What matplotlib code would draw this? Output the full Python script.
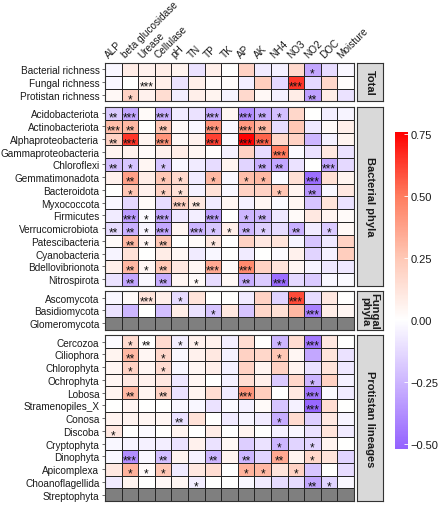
import numpy as np
import matplotlib
matplotlib.use("Agg")
import matplotlib.pyplot as plt
from matplotlib.colors import LinearSegmentedColormap, Normalize
from matplotlib.colorbar import ColorbarBase

plt.rcParams["font.family"] = ["Liberation Sans", "DejaVu Sans"]

# ---------- DATA ----------
variables = ["ALP", "beta glucosidase", "Urease", "Cellulase", "pH", "TN", "TP", "TK",
             "AP", "AK", "NH4", "NO3", "NO2", "DOC", "Moisture"]

total_rows = ["Bacterial richness", "Fungal richness", "Protistan richness"]
total_vals = [
    [-0.03, 0.08, 0.06, 0.08, 0.05, -0.10, 0.07, 0.00, 0.20, -0.07, -0.05, 0.17, -0.30, -0.12, -0.03],
    [-0.03, 0.00, 0.05, 0.07, -0.10, 0.07, 0.02, 0.01, -0.06, 0.22, -0.13, 0.65, -0.13, 0.18, 0.01],
    [0.03, 0.20, 0.06, 0.15, -0.06, 0.07, 0.05, -0.04, 0.17, 0.03, -0.05, 0.08, -0.32, 0.08, -0.10],
]
total_sig = [
    ["", "", "", "", "", "", "", "", "", "", "", "", "*", "", ""],
    ["", "", "***", "", "", "", "", "", "", "", "", "***", "", "", ""],
    ["", "*", "", "", "", "", "", "", "", "", "", "", "**", "", ""],
]

bact_rows = ["Acidobacteriota", "Actinobacteriota", "Alphaproteobacteria", "Gammaproteobacteria",
             "Chloroflexi", "Gemmatimonadota", "Bacteroidota", "Myxococcota", "Firmicutes",
             "Verrucomicrobiota", "Patescibacteria", "Cyanobacteria", "Bdellovibrionota", "Nitrospirota"]
bact_vals = [
    [-0.18, -0.30, 0.02, -0.27, -0.07, -0.10, -0.28, 0.04, -0.38, -0.28, -0.22, 0.18, 0.00, -0.06, -0.04],
    [0.28, 0.30, 0.00, 0.25, 0.02, -0.03, 0.42, -0.03, 0.40, 0.30, -0.12, 0.25, -0.08, 0.02, 0.07],
    [0.20, 0.65, 0.05, 0.42, 0.03, 0.06, 0.62, -0.02, 0.75, 0.55, 0.18, 0.20, -0.25, -0.05, 0.05],
    [0.05, 0.06, 0.02, 0.06, 0.08, 0.04, 0.01, -0.05, 0.20, -0.12, 0.50, -0.02, -0.10, 0.10, -0.10],
    [-0.22, -0.20, 0.04, -0.20, -0.03, -0.07, -0.12, 0.05, -0.15, -0.28, -0.30, -0.10, 0.00, -0.30, -0.13],
    [0.06, 0.38, 0.08, 0.25, 0.17, -0.07, 0.30, -0.03, 0.28, 0.30, -0.02, 0.14, -0.48, 0.14, 0.05],
    [0.00, 0.25, 0.06, 0.20, 0.13, -0.05, 0.13, -0.03, 0.20, 0.20, 0.25, 0.05, -0.35, -0.03, 0.10],
    [-0.03, -0.13, 0.02, -0.12, 0.20, 0.10, -0.07, 0.04, -0.05, 0.04, -0.02, 0.04, -0.20, 0.12, -0.10],
    [-0.07, -0.33, -0.02, -0.30, -0.08, -0.06, -0.32, 0.00, -0.25, -0.25, -0.08, 0.02, 0.10, 0.05, 0.02],
    [-0.12, -0.27, -0.04, -0.30, 0.04, -0.25, -0.20, 0.07, -0.25, -0.17, -0.12, -0.27, -0.07, -0.18, 0.03],
    [0.02, 0.30, 0.04, 0.25, 0.00, 0.02, 0.10, 0.00, 0.20, 0.10, 0.12, -0.04, -0.20, -0.08, 0.20],
    [-0.04, 0.13, 0.00, 0.08, 0.03, -0.07, -0.03, 0.00, -0.07, 0.00, -0.02, 0.06, -0.15, -0.05, 0.22],
    [0.07, 0.30, 0.04, 0.25, 0.10, 0.04, 0.35, 0.02, 0.45, 0.20, 0.12, 0.04, -0.04, -0.08, -0.08],
    [-0.10, -0.30, -0.03, -0.28, 0.04, 0.02, -0.12, 0.03, -0.28, -0.18, -0.48, -0.13, -0.18, -0.03, -0.02],
]
bact_sig = [
    ["**", "***", "", "***", "", "", "***", "", "***", "**", "*", "", "", "", ""],
    ["***", "**", "", "**", "", "", "***", "", "***", "**", "", "", "", "", ""],
    ["**", "***", "", "***", "", "", "***", "", "***", "***", "", "", "", "", ""],
    ["", "", "", "", "", "", "", "", "", "", "***", "", "", "", ""],
    ["**", "*", "", "*", "", "", "", "", "", "**", "**", "", "", "***", ""],
    ["", "**", "", "*", "*", "", "*", "", "*", "*", "", "", "***", "", ""],
    ["", "*", "", "*", "*", "", "", "", "", "", "*", "", "**", "", ""],
    ["", "", "", "", "***", "**", "", "", "", "", "", "", "", "", ""],
    ["", "***", "*", "***", "", "", "***", "", "*", "**", "", "", "", "", ""],
    ["**", "**", "*", "***", "", "***", "*", "*", "**", "*", "", "**", "", "*", ""],
    ["", "**", "*", "**", "", "", "*", "", "", "", "", "", "", "", ""],
    ["", "", "", "", "", "", "", "", "", "", "", "", "", "", ""],
    ["", "**", "*", "**", "", "", "***", "", "***", "", "", "", "", "", ""],
    ["", "**", "", "**", "", "*", "", "", "**", "", "***", "", "", "", ""],
]

fungi_rows = ["Ascomycota", "Basidiomycota", "Glomeromycota"]
fungi_vals = [
    [-0.03, 0.02, 0.12, 0.07, -0.12, 0.12, 0.00, 0.00, -0.07, 0.20, -0.15, 0.60, -0.12, 0.10, 0.00],
    [-0.10, -0.25, 0.00, -0.22, 0.08, -0.10, -0.20, 0.10, -0.20, 0.18, 0.14, 0.30, -0.42, 0.08, 0.04],
    [None] * 15,
]
fungi_sig = [
    ["", "", "***", "", "*", "", "", "", "", "", "", "***", "", "", ""],
    ["", "", "", "", "", "", "*", "", "", "", "", "", "***", "", ""],
    [""] * 15,
]

prot_rows = ["Cercozoa", "Ciliophora", "Chlorophyta", "Ochrophyta", "Lobosa", "Stramenopiles_X",
             "Conosa", "Discoba", "Cryptophyta", "Dinophyta", "Apicomplexa", "Choanoflagellida",
             "Streptophyta"]
prot_vals = [
    [-0.02, 0.16, 0.00, 0.16, -0.06, 0.06, 0.06, -0.06, 0.15, 0.00, -0.25, 0.15, -0.45, 0.10, 0.00],
    [0.05, 0.30, 0.04, 0.18, -0.03, 0.06, 0.10, -0.05, 0.20, 0.18, 0.25, 0.04, -0.30, 0.12, -0.10],
    [0.04, 0.20, 0.04, 0.16, -0.03, 0.04, 0.07, -0.05, 0.20, 0.05, 0.20, 0.05, -0.10, 0.12, -0.08],
    [0.04, 0.10, 0.06, 0.10, -0.08, 0.04, 0.00, -0.05, 0.15, 0.07, -0.18, 0.18, -0.25, 0.20, -0.05],
    [0.05, 0.30, 0.05, 0.20, -0.10, 0.05, 0.15, -0.07, 0.42, 0.22, 0.00, 0.10, -0.45, -0.02, -0.07],
    [0.00, 0.04, 0.00, 0.00, -0.03, -0.03, -0.10, -0.02, -0.05, 0.02, -0.20, -0.05, -0.50, 0.15, 0.00],
    [0.05, 0.05, 0.04, 0.04, -0.10, 0.13, 0.00, -0.07, -0.04, -0.07, -0.28, 0.16, -0.17, 0.10, -0.04],
    [0.10, 0.00, -0.02, 0.00, 0.05, 0.00, 0.08, 0.00, 0.05, 0.00, -0.05, -0.03, -0.10, 0.12, -0.07],
    [-0.03, -0.04, -0.05, -0.06, -0.10, 0.06, -0.10, 0.03, -0.17, -0.10, -0.25, -0.15, -0.15, 0.05, 0.00],
    [-0.03, -0.38, -0.03, -0.22, 0.05, -0.05, -0.25, 0.05, -0.25, -0.15, 0.35, 0.05, 0.18, 0.12, -0.15],
    [0.10, 0.32, 0.02, 0.25, -0.07, 0.10, 0.15, 0.00, 0.32, 0.30, 0.12, 0.20, -0.20, 0.00, -0.12],
    [-0.07, 0.05, 0.00, 0.03, 0.04, -0.06, 0.00, 0.00, -0.03, -0.07, -0.12, -0.12, -0.30, -0.15, -0.03],
    [None] * 15,
]
prot_sig = [
    ["", "*", "**", "", "*", "*", "", "", "", "", "*", "", "***", "", ""],
    ["", "**", "", "*", "", "", "", "", "", "", "*", "", "", "", ""],
    ["", "*", "", "*", "", "", "", "", "", "", "", "", "", "", ""],
    ["", "", "", "", "", "", "", "", "", "", "", "", "*", "", ""],
    ["", "**", "", "**", "", "", "", "", "***", "", "", "", "***", "", ""],
    ["", "", "", "", "", "", "", "", "", "", "", "", "***", "", ""],
    ["", "", "", "", "**", "", "", "", "", "", "*", "", "", "", ""],
    ["*", "", "", "", "", "", "", "", "", "", "", "", "", "", ""],
    ["", "", "", "", "", "", "", "", "", "", "*", "", "*", "", ""],
    ["", "***", "", "**", "", "", "**", "", "**", "", "**", "", "*", "", ""],
    ["", "*", "*", "*", "", "", "", "", "*", "*", "", "*", "", "", ""],
    ["", "", "", "", "", "*", "", "", "", "", "", "", "**", "*", ""],
    [""] * 15,
]

groups = [
    ("Total", total_rows, total_vals, total_sig),
    ("Bacterial phyla", bact_rows, bact_vals, bact_sig),
    ("Fungal\nphyla", fungi_rows, fungi_vals, fungi_sig),
    ("Protistan lineages", prot_rows, prot_vals, prot_sig),
]

# ---------- COLOURS ----------
VMIN, VMAX = -0.52, 0.76
stops = [(-0.52, (148, 98, 255)), (-0.25, (205, 182, 255)), (0.0, (255, 255, 255)),
         (0.25, (255, 200, 182)), (0.5, (255, 125, 95)), (0.76, (255, 0, 0))]
cmap = LinearSegmentedColormap.from_list(
    "pr", [((v - VMIN) / (VMAX - VMIN), tuple(c / 255 for c in rgb)) for v, rgb in stops])
cmap.set_bad("#7f7f7f")
norm = Normalize(VMIN, VMAX)

# ---------- LAYOUT (pixels) ----------
W, H = 444, 506
fig = plt.figure(figsize=(W / 100, H / 100), dpi=100)

def px_axes(x0, y0, x1, y1):
    return fig.add_axes([x0 / W, 1 - y1 / H, (x1 - x0) / W, (y1 - y0) / H])

ROW_H = 12.75
GAP = 5.75
X0, X1 = 105, 354
SX0, SX1 = 357, 383
text_col = "#1a1a1a"
LAB_FS = 7.2

top = 64
for gi, (strip, rows, vals, sig) in enumerate(groups):
    n = len(rows)
    bottom = top + n * ROW_H
    ax = px_axes(X0, top, X1, bottom)
    data = np.array([[np.nan if v is None else v for v in r] for r in vals], dtype=float)
    ax.pcolormesh(np.arange(16), np.arange(n + 1), data, cmap=cmap, norm=norm,
                  edgecolors="#262626", linewidth=0.6)
    ax.set_xlim(0, 15)
    ax.set_ylim(n, 0)
    ax.set_xticks([])
    ax.set_yticks(np.arange(n) + 0.5)
    ax.set_yticklabels(rows, fontsize=LAB_FS, color=text_col)
    ax.tick_params(axis="y", length=2, width=0.5, color="#333333", pad=2)
    for s in ax.spines.values():
        s.set_color("#333333")
        s.set_linewidth(0.8)
    for r in range(n):
        for c in range(15):
            if sig[r][c]:
                ax.text(c + 0.5, r + 0.82, sig[r][c], ha="center", va="center",
                        fontsize=8.5, color="#111111")
    if gi == 0:
        for c, lab in enumerate(variables):
            ax.text(c + 0.3, -0.3, lab, rotation=45, rotation_mode="anchor",
                    ha="left", va="bottom", fontsize=LAB_FS, color=text_col, clip_on=False)

    # facet strip
    sax = px_axes(SX0, top, SX1, bottom)
    sax.set_facecolor("#d9d9d9")
    sax.set_xticks([])
    sax.set_yticks([])
    for s in sax.spines.values():
        s.set_color("#333333")
        s.set_linewidth(0.8)
    sax.text(0.5, 0.5, strip, rotation=-90, ha="center", va="center", fontsize=8,
             fontweight="bold", color=text_col, transform=sax.transAxes,
             linespacing=0.9, clip_on=True)

    top = bottom + GAP

# ---------- COLOURBAR ----------
cax = px_axes(395, 133, 408, 449.5)
cb = ColorbarBase(cax, cmap=cmap, norm=norm, ticks=[-0.5, -0.25, 0, 0.25, 0.5, 0.75])
cb.outline.set_visible(False)
cb.ax.set_yticklabels(["\u22120.50", "\u22120.25", "0.00", "0.25", "0.50", "0.75"])
cb.ax.tick_params(length=3, width=0.6, color="white", direction="in", labelsize=8,
                  labelcolor=text_col, pad=2)

fig.savefig("out.png", dpi=100)
